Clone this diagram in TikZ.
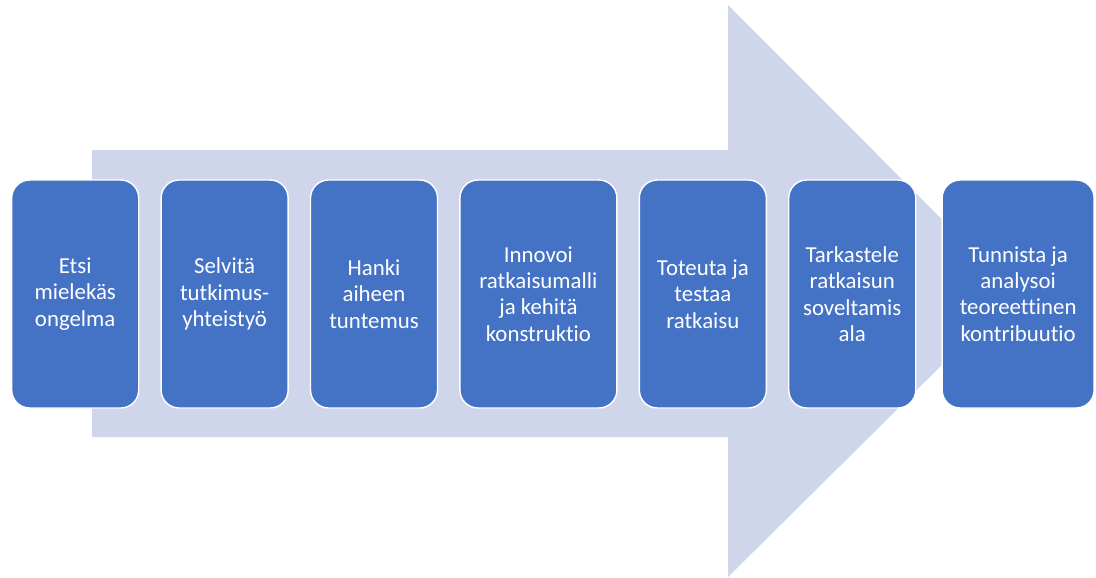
\documentclass[tikz,border=0pt]{standalone}
\usepackage{fontspec}
\setmainfont{Carlito}[Ligatures=NoCommon]
\usepackage{tikz}
\usetikzlibrary{positioning}
\definecolor{boxblue}{HTML}{4472C4}
\definecolor{arrowgray}{HTML}{CFD5EA}

\begin{document}
\begin{tikzpicture}[
          stage/.style={rounded corners=0.36cm,fill=boxblue,draw=white,line width=0.8pt,
            text=white,align=center,minimum height=4.56cm,minimum width=2.54cm,inner sep=2pt,
            font=\fontsize{13}{15}\selectfont},
          node distance=0.42cm
        ]
        \useasboundingbox (0,0) rectangle (21.92,-11.54);
        % big arrow behind the steps
        \fill[arrowgray] (1.84,-3.0) -- (14.56,-3.0) -- (14.56,-0.1) -- (20.3,-5.85)
          -- (14.56,-11.54) -- (14.56,-8.74) -- (1.84,-8.74) -- cycle;
        \node[stage,anchor=west] (s1) at (0.22,-5.88) {Etsi\\mielekäs\\ongelma};
        \node[stage,right=of s1] (s2) {Selvitä\\tutkimus-\\yhteistyö};
        \node[stage,right=of s2] (s3) {Hanki\\aiheen\\tuntemus};
        \node[stage,right=of s3,minimum width=3.14cm] (s4) {Innovoi\\ratkaisumalli\\ja kehitä\\konstruktio};
        \node[stage,right=of s4] (s5) {Toteuta ja\\testaa\\ratkaisu};
        \node[stage,right=of s5] (s6) {Tarkastele\\ratkaisun\\soveltamis\\ala};
        \node[stage,right=0.5cm of s6,minimum width=3.04cm] (s7) {Tunnista ja\\analysoi\\teoreettinen\\kontribuutio};
      \end{tikzpicture}
\end{document}
